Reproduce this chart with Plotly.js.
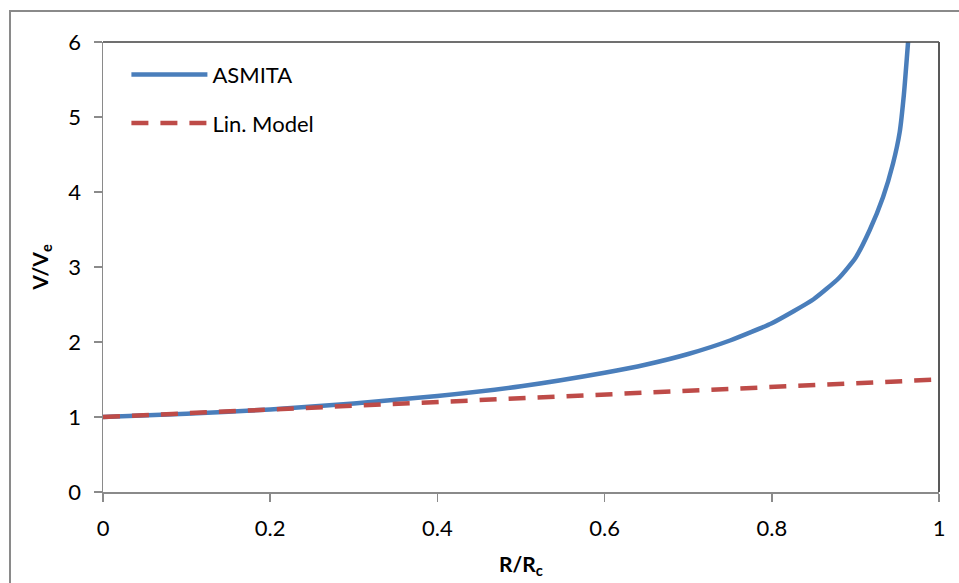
<!DOCTYPE html>
<html>
<head>
<meta charset="utf-8">
<script src="https://cdn.plot.ly/plotly-3.0.1.min.js"></script>
<style>
html,body{margin:0;padding:0;background:#fff;overflow:hidden;}
#chart{position:absolute;left:0;top:0;width:959px;height:583px;}
#frame{position:absolute;left:9px;top:10px;width:1000px;height:1000px;border:2px solid #8a8a8a;pointer-events:none;}
</style>
</head>
<body>
<div id="chart"></div>
<div id="frame"></div>
<script>
// R/Rc values and V/Ve values
var asmitaR = [0, 0.1, 0.2, 0.3, 0.4, 0.5, 0.6, 0.65, 0.7, 0.75, 0.8, 0.85, 0.88, 0.9, 0.917, 0.933, 0.945, 0.953, 0.958, 0.963];
var asmitaV = [1, 1.045, 1.10, 1.18, 1.28, 1.41, 1.59, 1.70, 1.84, 2.02, 2.25, 2.57, 2.85, 3.12, 3.49, 3.93, 4.38, 4.80, 5.30, 6.0];
var linR = [0, 1];
var linV = [1, 1.5];
var xTicks = [0, 0.2, 0.4, 0.6, 0.8, 1];
var xTickText = ['0', '0.2', '0.4', '0.6', '0.8', '1'];
var yTicks = [0, 1, 2, 3, 4, 5, 6];

var font = 'Lato, "Open Sans", sans-serif';

var traces = [
  {x: asmitaR, y: asmitaV, type: 'scatter', mode: 'lines', name: 'ASMITA',
   line: {color: '#4A7EBB', width: 4.5, shape: 'spline', smoothing: 0.5}, legendgroup: 'a'},
  {x: linR, y: linV, type: 'scatter', mode: 'lines', name: 'Lin. Model',
   line: {color: '#BE4B48', width: 4.5, dash: '17px,12px'}, legendgroup: 'b'}
];

var layout = {
  width: 959, height: 583,
  margin: {l: 103, r: 20, t: 42, b: 91},
  paper_bgcolor: '#fff', plot_bgcolor: '#fff',
  font: {family: font, size: 22, color: '#000'},
  showlegend: true,
  legend: {x: 0.028, y: 0.974, xanchor: 'left', yanchor: 'top', bgcolor: 'rgba(0,0,0,0)',
           font: {family: font, size: 22, color: '#000'}, traceorder: 'grouped',
           tracegroupgap: 17, itemwidth: 76},
  xaxis: {range: [0, 1], tickvals: xTicks, ticktext: xTickText, showgrid: false, zeroline: false,
          showline: true, linecolor: '#8a8a8a', linewidth: 1.5, ticks: 'outside', ticklen: 8,
          tickcolor: '#8a8a8a', tickwidth: 1.5, ticklabelstandoff: 8,
          tickfont: {family: font, size: 22, color: '#000'},
          title: {text: '<b>R/R<sub>c</sub></b>', font: {family: font, size: 21}, standoff: 17}},
  yaxis: {range: [0, 6], tickvals: yTicks, showgrid: false, zeroline: false,
          showline: true, linecolor: '#8a8a8a', linewidth: 1.5, ticks: 'outside', ticklen: 8,
          tickcolor: '#8a8a8a', tickwidth: 1.5, ticklabelstandoff: 8,
          tickfont: {family: font, size: 22, color: '#000'},
          title: {text: '<b>V/V<sub>e</sub></b>', font: {family: font, size: 21}, standoff: 14}},
  shapes: [
    {type: 'line', xref: 'paper', yref: 'paper', x0: 0, x1: 1, y0: 1, y1: 1, line: {color: '#404040', width: 1.5}},
    {type: 'line', xref: 'paper', yref: 'paper', x0: 1, x1: 1, y0: 0, y1: 1, line: {color: '#595959', width: 2}}
  ]
};

Plotly.newPlot('chart', traces, layout, {displayModeBar: false, staticPlot: true});
</script>
</body>
</html>
